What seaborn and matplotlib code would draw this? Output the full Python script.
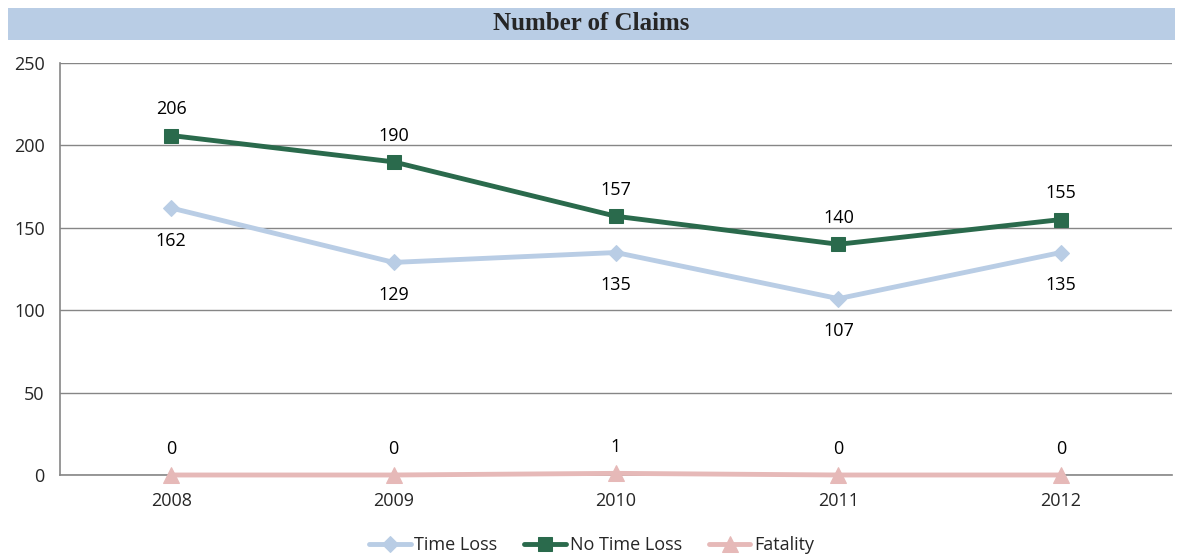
import matplotlib
matplotlib.use("Agg")
import matplotlib.pyplot as plt
import seaborn as sns
import pandas as pd
import numpy as np

years = ["2008", "2009", "2010", "2011", "2012"]
time_loss = [162, 129, 135, 107, 135]
no_time_loss = [206, 190, 157, 140, 155]
fatality = [0, 0, 1, 0, 0]

sns.set_style("white")
plt.rcParams['font.family'] = ['Open Sans', 'DejaVu Sans']

fig = plt.figure(figsize=(11.83, 5.59), dpi=100)
ax = fig.add_axes([60/1183, 1-475/559, (1172-60)/1183, (475-63)/559])

FS = 13
x = np.arange(len(years))
series = [
    ("Time Loss", time_loss, "#b9cde5", "D", 8, "below"),
    ("No Time Loss", no_time_loss, "#2a6a4c", "s", 10, "above"),
    ("Fatality", fatality, "#e6b9b8", "^", 11, "above"),
]
for name, vals, col, mk, ms, pos in series:
    df = pd.DataFrame({"x": x, "y": vals})
    sns.lineplot(data=df, x="x", y="y", ax=ax, color=col, marker=mk, markersize=ms,
                 markeredgecolor=col, linewidth=3.5, label=name, clip_on=False, zorder=3)
    for xi, v in zip(x, vals):
        if pos == "above":
            ax.annotate(str(v), (xi, v), xytext=(0, 12.5), textcoords="offset points",
                        ha="center", va="bottom", fontsize=FS, color="black")
        else:
            ax.annotate(str(v), (xi, v), xytext=(0, -17), textcoords="offset points",
                        ha="center", va="top", fontsize=FS, color="black")

ax.set_xlim(-0.5, len(years) - 0.5)
ax.set_ylim(0, 250)
ax.set_yticks([0, 50, 100, 150, 200, 250])
ax.set_xticks(x)
ax.set_xticklabels(years, fontsize=FS)
ax.set_xticks(np.arange(-0.5, len(years)), minor=True)
ax.tick_params(axis="x", which="major", length=0, pad=12)
ax.tick_params(axis="x", which="minor", length=5, color="#868686", direction="out")
ax.tick_params(axis="y", length=5, color="#868686", direction="out", labelsize=FS, pad=6)
ax.set_xlabel("")
ax.set_ylabel("")
ax.grid(axis="y", color="#868686", linewidth=1)
ax.set_axisbelow(True)
for s in ["top", "right"]:
    ax.spines[s].set_visible(False)
for s in ["left", "bottom"]:
    ax.spines[s].set_color("#868686")
    ax.spines[s].set_linewidth(1.2)

# title band
band = matplotlib.patches.Rectangle((8/1183, 1-40/559), (1175-8)/1183, 32/559,
                                    transform=fig.transFigure, facecolor="#b9cde5",
                                    edgecolor="none")
fig.patches.append(band)
fig.text(0.5, 1-24/559, "Number of Claims", ha="center", va="center",
         fontsize=18, fontweight="bold", family=["Liberation Serif", "DejaVu Serif"])

if ax.legend_:
    ax.legend_.remove()
handles, labels = ax.get_legend_handles_labels()
fig.legend(handles, labels, loc="center", bbox_to_anchor=(0.5, 1-545/559), ncol=3,
           frameon=False, fontsize=FS, handlelength=2.3, columnspacing=1.5,
           handletextpad=0.2)

fig.savefig("out.png", dpi=100)
